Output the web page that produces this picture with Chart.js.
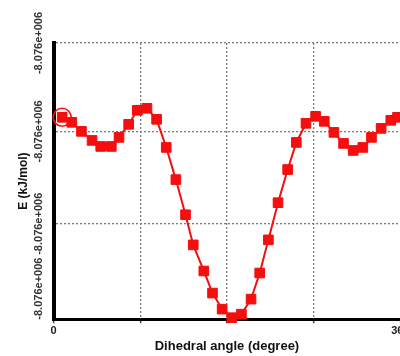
<!DOCTYPE html>
<html>
<head>
<meta charset="utf-8">
<script src="https://cdn.jsdelivr.net/npm/chart.js@4/dist/chart.umd.min.js"></script>
<style>
  html, body { margin: 0; padding: 0; background: #fff; overflow: hidden; width: 400px; height: 356px; }
  canvas { display: block; }
</style>
</head>
<body>
<canvas id="c" width="411" height="356"></canvas>
<script>
// Dihedral scan: angle (degree) and relative energy (display units)
const angles = [9, 19, 29, 40, 49, 60, 68, 78, 87, 97, 107, 117, 127, 137, 145, 156, 165, 175, 185,
                195, 205, 214, 223, 233, 243, 252, 262, 272, 281, 291, 301, 311, 321, 330, 340, 350, 357];
const energies = [2.01, 1.96, 1.87, 1.78, 1.72, 1.72, 1.81, 1.94, 2.08, 2.10, 1.99, 1.71, 1.39, 1.04, 0.74,
                  0.48, 0.26, 0.10, 0.015, 0.05, 0.20, 0.46, 0.79, 1.16, 1.49, 1.76, 1.95, 2.02, 1.97, 1.86,
                  1.75, 1.68, 1.71, 1.81, 1.90, 1.98, 2.01];
const yTickValues = [0, 0.95, 1.87, 2.75];
const yTickLabels = ['-8.076e+006', '-8.076e+006', '-8.076e+006', '-8.076e+006'];
const xTickValues = [0, 90, 180, 270, 360];
const xTickLabels = ['0', '', '', '', '360'];
const highlightIndex = 0;

const RED = 'rgb(245,14,14)';
const points = angles.map((a, i) => ({ x: a, y: energies[i] }));

new Chart(document.getElementById('c'), {
  type: 'scatter',
  data: {
    datasets: [
      {
        data: [points[highlightIndex]],
        showLine: false,
        pointStyle: 'circle',
        pointRadius: 9,
        pointBorderWidth: 1.6,
        pointBorderColor: RED,
        pointBackgroundColor: 'rgba(0,0,0,0)',
        clip: false
      },
      {
        data: points,
        showLine: true,
        borderColor: RED,
        borderWidth: 2,
        pointStyle: 'rect',
        pointRadius: 6.8,
        pointBorderWidth: 1,
        pointBackgroundColor: RED,
        pointBorderColor: RED,
        clip: false
      }
    ]
  },
  options: {
    responsive: false,
    animation: false,
    events: [],
    layout: { padding: { left: 0, top: 43, right: 0, bottom: 0 } },
    plugins: { legend: { display: false }, tooltip: { enabled: false } },
    scales: {
      x: {
        type: 'linear',
        min: 0, max: 360,
        afterBuildTicks: s => { s.ticks = xTickValues.map(v => ({ value: v })); },
        ticks: {
          callback: (v, i) => xTickLabels[i],
          font: { family: 'Liberation Sans, Arial', size: 11, weight: 'bold' },
          color: '#222',
          padding: 1,
          maxRotation: 0,
          autoSkip: false
        },
        grid: {
          color: '#7a7a7a',
          lineWidth: 1.3,
          tickLength: 4,
          tickColor: '#444',
          tickWidth: 1.5,
          tickBorderDash: []
        },
        border: { display: true, color: '#000', width: 3, dash: [2, 2] },
        title: {
          display: true,
          text: 'Dihedral angle (degree)',
          font: { family: 'Liberation Sans, Arial', size: 13, weight: 'bold' },
          color: '#111',
          padding: { top: 0, bottom: 2 }
        }
      },
      y: {
        type: 'linear',
        min: 0, max: 2.75,
        afterBuildTicks: s => { s.ticks = yTickValues.map(v => ({ value: v })); },
        ticks: {
          callback: (v, i) => (i === 0 ? ' '.repeat(20) : '') + yTickLabels[i],
          font: { family: 'Liberation Sans, Arial', size: 11, weight: 'bold' },
          color: '#333',
          minRotation: 90,
          maxRotation: 90,
          crossAlign: 'center',
          padding: -47.1,
          autoSkip: false
        },
        grid: {
          color: '#7a7a7a',
          lineWidth: 1.3,
          drawTicks: false
        },
        border: { display: true, color: '#000', width: 4, dash: [2, 2] },
        title: {
          display: true,
          text: 'E (kJ/mol)',
          font: { family: 'Liberation Sans, Arial', size: 12, weight: 'bold' },
          color: '#111',
          padding: { top: 16.8, bottom: 103.3 }
        }
      }
    }
  }
});
</script>
</body>
</html>
